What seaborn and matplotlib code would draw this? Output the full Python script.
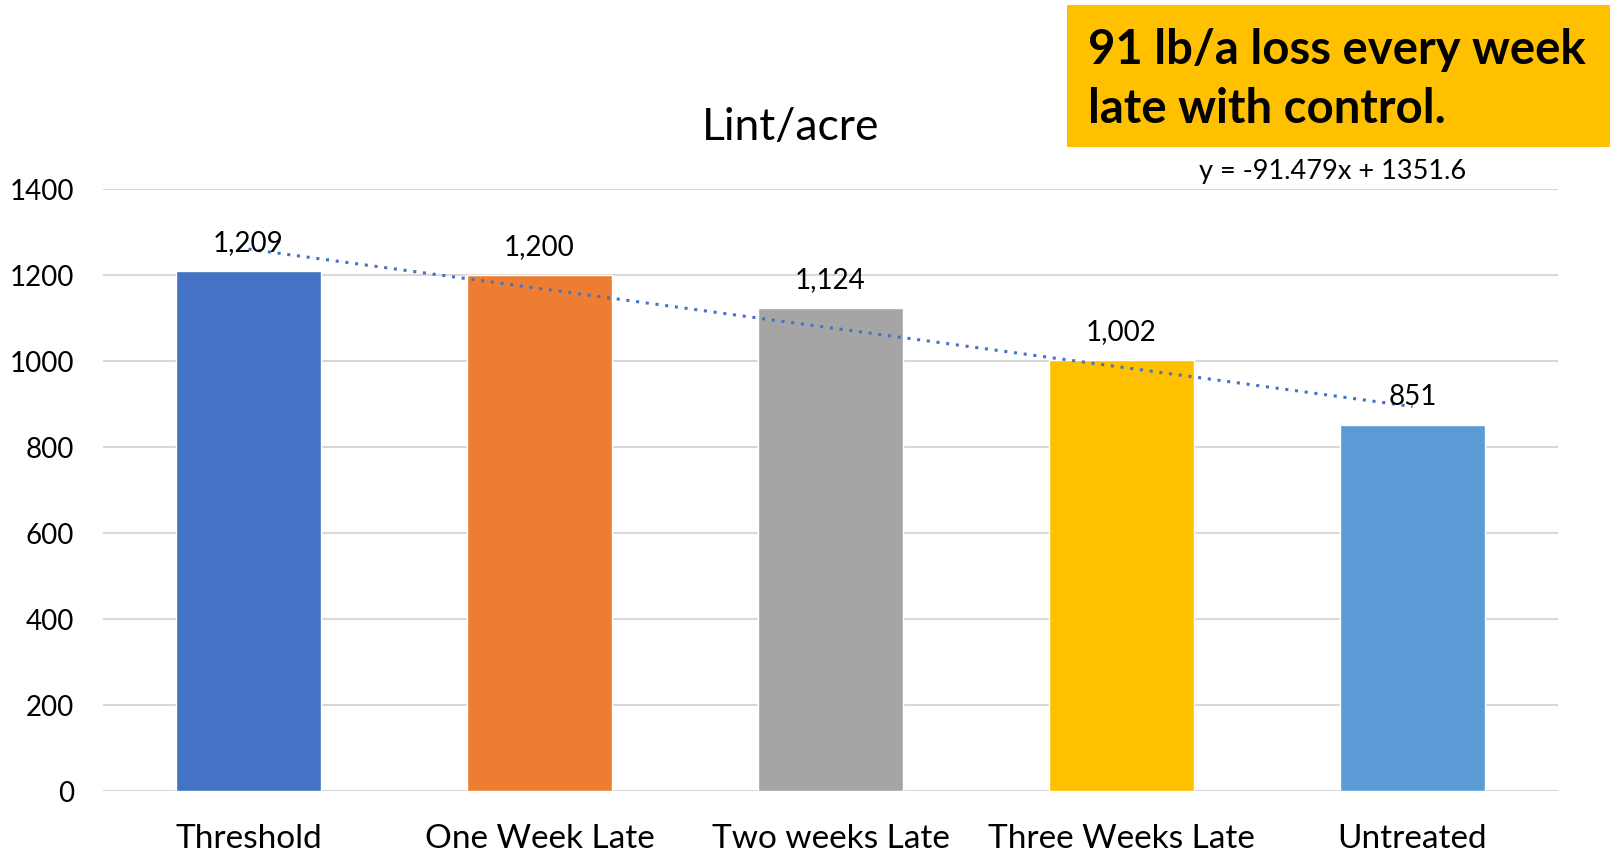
import matplotlib
matplotlib.use("Agg")
import matplotlib.pyplot as plt
import seaborn as sns
import pandas as pd
from matplotlib.patches import Rectangle

# Lint yield per acre by timing of control
categories = ["Threshold", "One Week Late", "Two weeks Late", "Three Weeks Late", "Untreated"]
lint_per_acre = [1209, 1200, 1124, 1002, 851]
bar_colors = ["#4472C4", "#ED7D31", "#A5A5A5", "#FFC000", "#5B9BD5"]

# Linear trend fitted over treatment order (x = 1..5)
trend_slope = -91.479
trend_intercept = 1351.6

y_ticks = [0, 200, 400, 600, 800, 1000, 1200, 1400]

sns.set_theme(style="white")
plt.rcParams["font.family"] = ["Lato", "DejaVu Sans"]

W, H = 1610, 855
fig = plt.figure(figsize=(W / 100, H / 100), dpi=100)
ax = fig.add_axes([103 / W, (H - 791) / H, (1558 - 103) / W, (791 - 189) / H])

df = pd.DataFrame({"category": categories, "value": lint_per_acre})
sns.barplot(data=df, x="category", y="value", hue="category", palette=bar_colors,
            width=0.5, legend=False, ax=ax, saturation=1, zorder=3)

ax.set_xlim(-0.5, len(categories) - 0.5)
ax.set_ylim(0, 1400)
ax.set_yticks(y_ticks)
ax.set_yticklabels([str(t) for t in y_ticks], fontsize=20, color="#000000")
ax.tick_params(axis="x", labelsize=24, colors="#000000", pad=24, length=0)
ax.tick_params(axis="y", pad=21, length=0)
ax.set_xlabel("")
ax.set_ylabel("")
ax.grid(axis="y", color="#D9D9D9", linewidth=1.5, zorder=0)
ax.grid(axis="x", visible=False)
for s in ax.spines.values():
    s.set_visible(False)

# Value labels above bars
for i, v in enumerate(lint_per_acre):
    ax.annotate(f"{v:,}", (i, v), xytext=(0, 20), textcoords="offset points",
                ha="center", va="center", fontsize=20, color="#000000", zorder=5)

# Dotted linear trend line
xs = list(range(len(categories)))
trend = [trend_slope * (i + 1) + trend_intercept for i in xs]
ax.plot(xs, trend, linestyle=(0, (1, 2.2)), color="#4472C4", linewidth=2.2, zorder=4)

fig.text(791 / W, 1 - 127 / H, "Lint/acre", ha="center", va="center", fontsize=32, color="#000000")
fig.text(1333 / W, 1 - 171 / H, f"y = {trend_slope}x + {trend_intercept}",
         ha="center", va="center", fontsize=19.5, color="#000000")

# Highlight box with takeaway
fig.patches.append(Rectangle((1067 / W, 1 - 147 / H), (W - 1067) / W, 142 / H,
                             transform=fig.transFigure, facecolor="#FFC000",
                             edgecolor="none", zorder=1))
fig.text(1088 / W, 1 - 50 / H, "91 lb/a loss every week", ha="left", va="center",
         fontsize=34, fontweight="bold", color="#000000")
fig.text(1088 / W, 1 - 109 / H, "late with control.", ha="left", va="center",
         fontsize=34, fontweight="bold", color="#000000")

fig.savefig("out.png", dpi=100)
